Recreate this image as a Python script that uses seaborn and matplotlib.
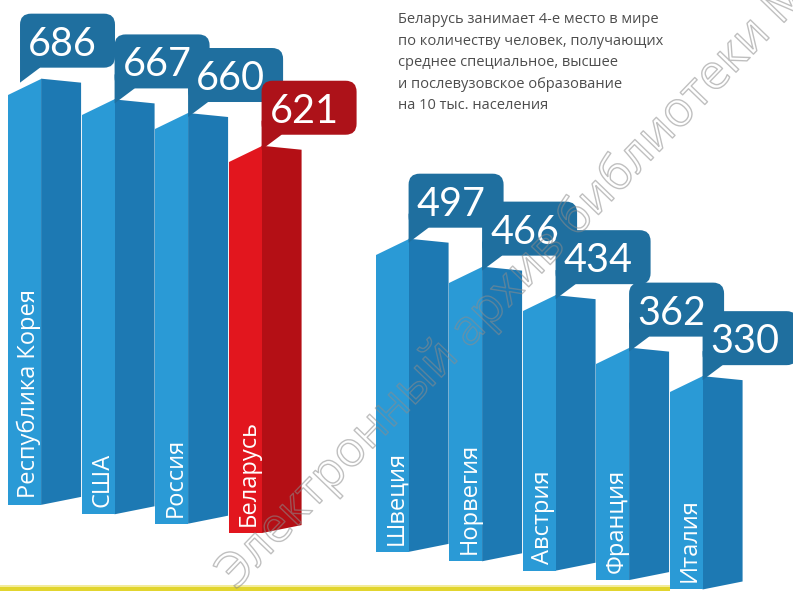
import matplotlib
matplotlib.use("Agg")
import matplotlib.pyplot as plt
import matplotlib.patheffects as pe
import pandas as pd
import seaborn as sns
from matplotlib.patches import FancyBboxPatch, Polygon, Rectangle

countries = ["Республика Корея", "США", "Россия", "Беларусь",
             "Швеция", "Норвегия", "Австрия", "Франция", "Италия"]
values = [686, 667, 660, 621, 497, 466, 434, 362, 330]
highlight = "Беларусь"
caption = ("Беларусь занимает 4-е место в мире\n"
           "по количеству человек, получающих\n"
           "среднее специальное, высшее\n"
           "и послевузовское образование\n"
           "на 10 тыс. населения")
watermark = "Электронный архив библиотеки МГПУ"

BLUE, BLUE_SIDE, BLUE_TAG = "#2a9ad6", "#1d79b3", "#1f6f9f"
RED, RED_SIDE, RED_TAG = "#e2161e", "#b40f15", "#ad1219"

# the axes fill the figure; 73.5 px per category slot, 0.598 px per value unit
PX_X, PX_Y = 73.5, 0.598
X0, Y0 = -0.334, -144


def dx(px):
    return px / PX_X


def dy(px):
    return px / PX_Y


def main():
    df = pd.DataFrame({"country": countries, "value": values})
    order = countries[:4] + [""] + countries[4:]
    palette = {c: (RED if c == highlight else BLUE) for c in countries}

    fig = plt.figure(figsize=(7.93, 5.91), dpi=100)
    ax = fig.add_axes([0, 0, 1, 1])
    sns.barplot(data=df, x="country", y="value", hue="country", order=order,
                palette=palette, width=0.45, saturation=1, legend=False,
                edgecolor="none", linewidth=0, ax=ax)
    ax.set_xlim(X0, X0 + dx(793))
    ax.set_ylim(Y0, Y0 + dy(591))
    ax.axis("off")

    tilt = dy(9.4)  # fake perspective: baseline drops to the right
    for p in list(ax.patches):
        i = int(round(p.get_x() + p.get_width() / 2))
        name = order[i]
        val = p.get_height()
        red = name == highlight
        base = -tilt * i
        p.set_y(base)
        z = 3 + i * 0.1
        p.set_zorder(z + 0.05)
        left, right = p.get_x(), p.get_x() + p.get_width()
        top = base + val
        side = RED_SIDE if red else BLUE_SIDE
        face = RED if red else BLUE
        tag = RED_TAG if red else BLUE_TAG

        ax.add_patch(Polygon([(right, base), (right + dx(40), base + dy(8)),
                              (right + dx(40), top + dy(12)), (right, top + dy(16))],
                             closed=True, fc=side, ec="none", zorder=z))
        ax.add_patch(Polygon([(left, top), (right, top), (right, top + dy(16))],
                             closed=True, fc=face, ec="none", zorder=z + 0.05))
        ax.text((left + right) / 2 + dx(4), base + dy(7), name, rotation=90,
                ha="center", va="bottom", color="white", fontsize=17,
                family=["Open Sans", "DejaVu Sans"], zorder=z + 0.06)

        # speech bubble with the value
        bx = right if i > 0 else left + dx(12)
        bb = top + dy(27)
        w, h = dx(95), dy(54)
        ax.add_patch(FancyBboxPatch((bx, bb), w, h,
                                    boxstyle=f"round,pad=0,rounding_size={dx(11)}",
                                    mutation_aspect=dy(1) / dx(1),
                                    fc=tag, ec="none", zorder=10 + i))
        ax.add_patch(Polygon([(bx, bb + dy(14)), (bx + dx(20), bb + dy(14)),
                              (bx + dx(20), bb), (bx, bb - dy(15))],
                             closed=True, fc=tag, ec="none", zorder=10 + i))
        ax.text(bx + dx(8), bb + h / 2, str(int(val)), ha="left",
                va="center_baseline", color="white", fontsize=28.5,
                family=["Lato", "DejaVu Sans"], zorder=10 + i + 0.5)

    # yellow strip at the bottom
    ax.add_patch(Rectangle((0, 0), 670 / 793, 4 / 591, transform=ax.transAxes,
                           fc="#e2d52e", ec="none", zorder=9))
    ax.add_patch(Rectangle((0, 4 / 591), 670 / 793, 2 / 591, transform=ax.transAxes,
                           fc="#f3ec9c", ec="none", zorder=9))

    fig.text(398 / 793, 1 - 12 / 591, caption, ha="left", va="top",
             fontsize=10.5, color="#4d4d4d", linespacing=1.6,
             family=["Open Sans", "DejaVu Sans"])

    fig.text(236 / 793, 1 - 590 / 591, watermark, rotation=46,
             rotation_mode="anchor", ha="left", va="baseline", fontsize=35,
             color="none", family=["Open Sans", "DejaVu Sans"], zorder=30,
             path_effects=[pe.withStroke(linewidth=1.0,
                                         foreground=(0.55, 0.55, 0.55, 0.55))])

    fig.savefig("out.png", dpi=100)


if __name__ == "__main__":
    main()
